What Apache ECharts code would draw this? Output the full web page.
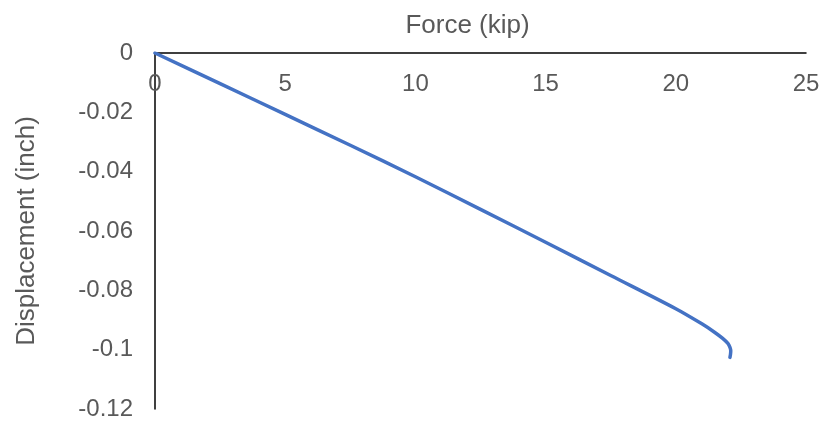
<!DOCTYPE html>
<html>
<head>
<meta charset="utf-8">
<script src="https://cdn.jsdelivr.net/npm/echarts@6/dist/echarts.min.js"></script>
<style>
  html, body { margin: 0; padding: 0; background: #ffffff; }
  #chart { width: 825px; height: 427px; }
</style>
</head>
<body>
<div id="chart"></div>
<script>
// Load–displacement response: force (kip) vs displacement (inch)
const forceKip = [0, 2.5, 5, 7.5, 10, 12.5, 15, 17.5, 20, 21, 21.5, 21.8, 22.0, 22.08, 22.11, 22.1, 22.08];
const displacementIn = [0, -0.0103, -0.0207, -0.0311, -0.0417, -0.0527, -0.0638, -0.0750, -0.0862, -0.0913, -0.0942, -0.0962, -0.0979, -0.0992, -0.1004, -0.1016, -0.1026];

const xTicks = [0, 5, 10, 15, 20, 25];
const yTicks = [0, -0.02, -0.04, -0.06, -0.08, -0.1, -0.12];

const points = forceKip.map((f, i) => [f, displacementIn[i]]);

const labelFont = 'Liberation Sans, Arial, sans-serif';
const chart = echarts.init(document.getElementById('chart'), null, { renderer: 'canvas' });

chart.setOption({
  animation: false,
  backgroundColor: '#ffffff',
  grid: { left: 155, right: 19, top: 53, bottom: 18, containLabel: false },
  xAxis: {
    type: 'value',
    position: 'top',
    min: xTicks[0],
    max: xTicks[xTicks.length - 1],
    interval: xTicks[1] - xTicks[0],
    name: 'Force (kip)',
    nameLocation: 'middle',
    nameGap: 14,
    nameTextStyle: { fontFamily: labelFont, fontSize: 26, color: '#595959', padding: [0, 26, 0, 0] },
    axisLine: { onZero: false, lineStyle: { color: '#000000', width: 1.5 } },
    axisTick: { show: false },
    axisLabel: {
      inside: true,
      margin: 19,
      fontFamily: labelFont,
      fontSize: 24,
      color: '#595959',
      formatter: v => String(v)
    },
    splitLine: { show: false }
  },
  yAxis: {
    type: 'value',
    min: yTicks[yTicks.length - 1],
    max: yTicks[0],
    interval: 0.02,
    name: 'Displacement (inch)',
    nameLocation: 'middle',
    nameGap: 115,
    nameTextStyle: { fontFamily: labelFont, fontSize: 26, color: '#595959' },
    axisLine: { onZero: false, lineStyle: { color: '#000000', width: 1.5 } },
    axisTick: { show: false },
    axisLabel: {
      margin: 22,
      fontFamily: labelFont,
      fontSize: 24,
      color: '#595959',
      formatter: v => String(+v.toFixed(2))
    },
    splitLine: { show: false }
  },
  series: [{
    type: 'line',
    data: points,
    showSymbol: false,
    smooth: 0.3,
    lineStyle: { color: '#4472C4', width: 3.5, cap: 'round', join: 'round' },
    itemStyle: { color: '#4472C4' }
  }]
});
</script>
</body>
</html>
